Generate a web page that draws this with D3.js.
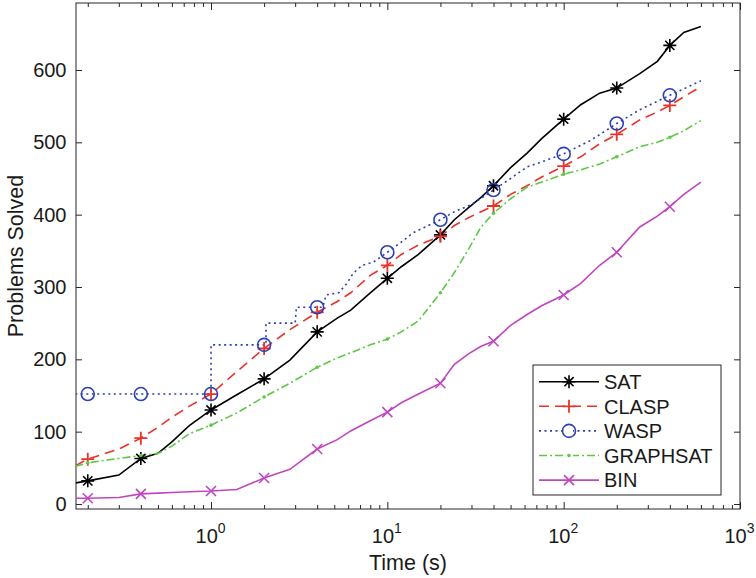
<!DOCTYPE html>
<html>
<head>
<meta charset="utf-8">
<script src="https://cdn.jsdelivr.net/npm/d3@7"></script>
<style>
  body { margin: 0; background: #fff; }
  svg text { font-family: "Liberation Sans", Arial, Helvetica, sans-serif; fill: #1a1a1a; }
</style>
</head>
<body>
<div id="chart"></div>
<script>
// common time grid (s) for the smooth series
const times = [0.17, 0.2, 0.3, 0.4, 0.5, 0.6, 0.75, 1, 1.4, 2, 2.8, 4, 5.2, 6.2, 8, 10,
  12, 15, 20, 24, 29, 34, 40, 50, 62, 75, 100, 125, 160, 200, 270, 340, 400, 480, 600];
const satSolved = [29, 32, 40, 63, 70, 86, 108, 130, 151, 173, 199, 238, 257, 268, 292, 312,
  328, 345, 372, 393, 410, 424, 440, 465, 485, 505, 532, 552, 568, 575, 595, 612, 634, 652, 660];
const claspSolved = [53, 62, 76, 91, 106, 120, 135, 152, 183, 215, 241, 265, 280, 292, 316, 330,
  345, 358, 370, 385, 396, 404, 412, 428, 440, 452, 467, 480, 498, 511, 531, 542, 551, 563, 577];
const graphsatSolved = [52, 57, 63, 67, 70, 80, 97, 109, 126, 148, 167, 189, 202, 209, 220, 228,
  238, 253, 292, 320, 353, 383, 402, 422, 438, 445, 456, 462, 470, 480, 494, 500, 507, 516, 530];
const binSolved = [8, 8, 9, 14, 15, 16, 17, 18, 20, 36, 48, 76, 89, 101, 115, 127,
  140, 152, 167, 193, 208, 218, 225, 247, 262, 274, 289, 305, 330, 348, 383, 398, 411, 428, 445];

// WASP has visible steps, so it gets its own grid
const waspTimes = [0.17, 0.2, 0.4, 1, 1, 2, 2.05, 2.05, 3, 3.05, 4, 4.3, 4.5, 5.3, 5.9, 6.4,
  7.2, 8.3, 10, 12, 14, 20, 24, 30, 40, 50, 62, 75, 100, 143, 200, 270, 400, 600];
const waspSolved = [152, 152, 152, 152, 220, 220, 220, 250, 250, 272, 272, 272, 289, 292, 305, 319,
  330, 334, 348, 362, 375, 393, 404, 414, 434, 450, 466, 473, 484, 503, 526, 545, 565, 585];

const markerTimes = [0.2, 0.4, 1, 2, 4, 10, 20, 40, 100, 200, 400];
const seriesNames = ['SAT', 'CLASP', 'WASP', 'GRAPHSAT', 'BIN'];
const yTicks = [0, 100, 200, 300, 400, 500, 600];
const xMajor = [1, 10, 100, 1000];

const W = 756, H = 578;
const margin = { left: 76, right: 740, top: 3, bottom: 509 };

const svg = d3.select('#chart').append('svg')
  .attr('width', W).attr('height', H);

const x = d3.scaleLog().domain([0.1715, 1000]).range([margin.left, margin.right]);
const y = d3.scaleLinear().domain([-6.9, 692.6]).range([margin.bottom, margin.top]);

const zip = (ts, vs) => ts.map((t, i) => ({ t: t, v: vs[i] }));
const series = [
  { name: 'SAT', data: zip(times, satSolved), color: '#000000', dash: null, marker: 'star' },
  { name: 'CLASP', data: zip(times, claspSolved), color: '#e8332b', dash: '10,6', marker: 'plus' },
  { name: 'WASP', data: zip(waspTimes, waspSolved), color: '#2a40b4', dash: '2,3.5', marker: 'circle' },
  { name: 'GRAPHSAT', data: zip(times, graphsatSolved), color: '#5ec846', dash: '8,3,2,3', marker: 'dot' },
  { name: 'BIN', data: zip(times, binSolved), color: '#c046c0', dash: null, marker: 'cross' }
];

svg.append('defs').append('clipPath').attr('id', 'plotclip')
  .append('rect').attr('x', margin.left).attr('y', margin.top)
  .attr('width', margin.right - margin.left).attr('height', margin.bottom - margin.top);

// minor ticks for the log axis
const xMinor = [];
[0.1, 1, 10, 100].forEach(dec => {
  for (let k = 2; k <= 9; k++) {
    const v = dec * k;
    if (v > 0.1715 && v < 1000) xMinor.push(v);
  }
});

const axisColor = '#262626';

// bottom axis: major ticks with 10^k labels
const gx = svg.append('g').attr('transform', `translate(0,${margin.bottom})`)
  .call(d3.axisBottom(x).tickValues(xMajor).tickSize(-7).tickPadding(13).tickFormat(''));
gx.select('.domain').remove();
gx.selectAll('.tick line').attr('stroke', axisColor);
gx.selectAll('.tick text').each(function (d) {
  const t = d3.select(this).attr('x', -1).attr('font-size', 20).attr('dy', '1.05em');
  t.append('tspan').text('10');
  t.append('tspan').attr('font-size', 14).attr('dy', '-0.68em').text(Math.round(Math.log10(d)));
});
svg.append('g').attr('transform', `translate(0,${margin.bottom})`)
  .call(d3.axisBottom(x).tickValues(xMinor).tickSize(-4).tickFormat(''))
  .call(g => g.select('.domain').remove())
  .selectAll('.tick line').attr('stroke', axisColor);

// top axis (box)
svg.append('g').attr('transform', `translate(0,${margin.top})`)
  .call(d3.axisTop(x).tickValues(xMajor).tickSize(-7).tickFormat(''))
  .call(g => g.select('.domain').remove())
  .selectAll('.tick line').attr('stroke', axisColor);
svg.append('g').attr('transform', `translate(0,${margin.top})`)
  .call(d3.axisTop(x).tickValues(xMinor).tickSize(-4).tickFormat(''))
  .call(g => g.select('.domain').remove())
  .selectAll('.tick line').attr('stroke', axisColor);

// left axis
const gy = svg.append('g').attr('transform', `translate(${margin.left},0)`)
  .call(d3.axisLeft(y).tickValues(yTicks).tickSize(-6).tickPadding(9.5));
gy.select('.domain').remove();
gy.selectAll('.tick line').attr('stroke', axisColor);
gy.selectAll('.tick text').attr('font-size', 20).attr('fill', '#1a1a1a');

// right axis
svg.append('g').attr('transform', `translate(${margin.right},0)`)
  .call(d3.axisRight(y).tickValues(yTicks).tickSize(-6).tickFormat(''))
  .call(g => g.select('.domain').remove())
  .selectAll('.tick line').attr('stroke', axisColor);

// frame
svg.append('rect')
  .attr('x', margin.left).attr('y', margin.top)
  .attr('width', margin.right - margin.left).attr('height', margin.bottom - margin.top)
  .attr('fill', 'none').attr('stroke', axisColor).attr('stroke-width', 1);

// axis labels
svg.append('text')
  .attr('x', (margin.left + margin.right) / 2).attr('y', 570)
  .attr('text-anchor', 'middle').attr('font-size', 21.5)
  .text('Time (s)');
svg.append('text')
  .attr('transform', `translate(23,${(margin.top + margin.bottom) / 2}) rotate(-90)`)
  .attr('text-anchor', 'middle').attr('font-size', 21.5)
  .text('Problems Solved');

// marker shapes
function drawMarker(g, type, color) {
  if (type === 'circle') {
    g.append('circle').attr('r', 6.5).attr('fill', 'none')
      .attr('stroke', color).attr('stroke-width', 1.6);
  } else if (type === 'plus') {
    g.append('path').attr('d', 'M-6.5,0H6.5M0,-6.5V6.5')
      .attr('stroke', color).attr('stroke-width', 1.8);
  } else if (type === 'cross') {
    g.append('path').attr('d', 'M-5,-5L5,5M-5,5L5,-5')
      .attr('stroke', color).attr('stroke-width', 1.6);
  } else if (type === 'star') {
    g.append('path').attr('d', 'M-6.5,0H6.5M0,-6.5V6.5M-4.6,-4.6L4.6,4.6M-4.6,4.6L4.6,-4.6')
      .attr('stroke', color).attr('stroke-width', 1.6);
  } else if (type === 'dot') {
    g.append('circle').attr('r', 1.8).attr('fill', color);
  }
}

const line = d3.line().x(d => x(d.t)).y(d => y(d.v));
const plot = svg.append('g').attr('clip-path', 'url(#plotclip)');

series.forEach(s => {
  plot.append('path')
    .datum(s.data)
    .attr('d', line)
    .attr('fill', 'none')
    .attr('stroke', s.color)
    .attr('stroke-width', 1.6)
    .attr('stroke-dasharray', s.dash);
});

series.forEach(s => {
  const pts = markerTimes.map(mt => s.data.find(d => d.t === mt)).filter(d => d);
  plot.append('g').selectAll('g')
    .data(pts)
    .enter()
    .append('g')
    .attr('transform', d => `translate(${x(d.t)},${y(d.v)})`)
    .each(function () { drawMarker(d3.select(this), s.marker, s.color); });
});

// legend
const lg = svg.append('g');
lg.append('rect')
  .attr('x', 533).attr('y', 365).attr('width', 188).attr('height', 130)
  .attr('fill', '#fff').attr('stroke', axisColor).attr('stroke-width', 1);
series.forEach((s, i) => {
  const ly = 381.7 + i * 24.6;
  lg.append('line')
    .attr('x1', 539).attr('x2', 599).attr('y1', ly).attr('y2', ly)
    .attr('stroke', s.color).attr('stroke-width', 1.6)
    .attr('stroke-dasharray', s.dash);
  const mg = lg.append('g').attr('transform', `translate(569,${ly})`);
  if (s.dash) mg.append('rect').attr('x', -4).attr('y', -2).attr('width', 8).attr('height', 4).attr('fill', '#fff');
  drawMarker(mg, s.marker, s.color);
  lg.append('text')
    .attr('x', 604).attr('y', ly).attr('dy', '0.36em')
    .attr('font-size', 20)
    .text(seriesNames[i]);
});
</script>
</body>
</html>
